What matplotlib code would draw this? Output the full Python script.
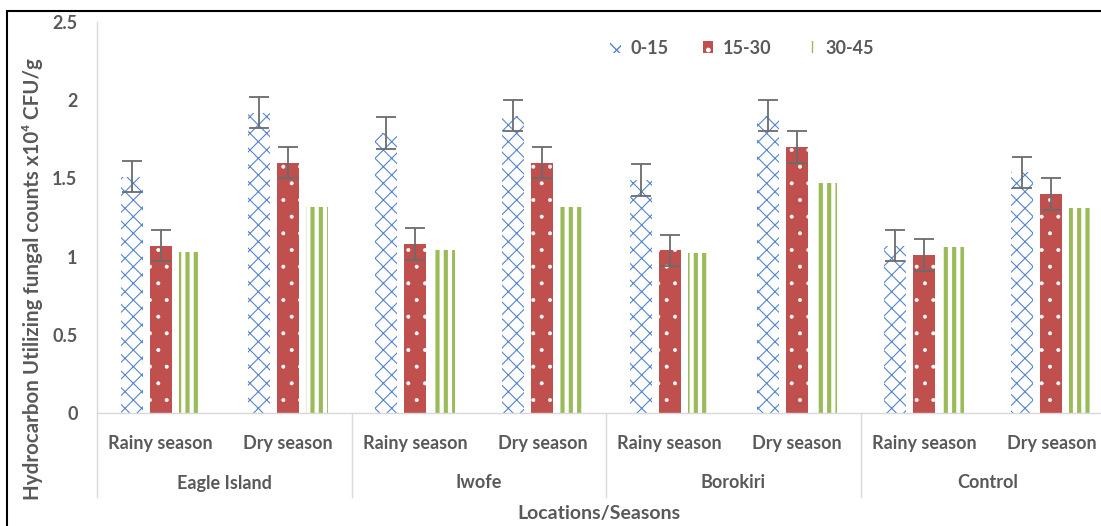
import matplotlib
matplotlib.use("Agg")
import matplotlib.pyplot as plt
import matplotlib.transforms as mtransforms
from matplotlib.patches import Patch, Rectangle
import numpy as np

# ---- data -------------------------------------------------------------
locations = ["Eagle Island", "Iwofe", "Borokiri", "Control"]
seasons = ["Rainy season", "Dry season"]
depths = ["0-15", "15-30", "30-45"]

depth_0_15 = [1.51, 1.92, 1.79, 1.90, 1.49, 1.90, 1.07, 1.54]
depth_15_30 = [1.07, 1.60, 1.08, 1.60, 1.04, 1.70, 1.01, 1.40]
depth_30_45 = [1.03, 1.32, 1.04, 1.32, 1.02, 1.47, 1.06, 1.31]
err_0_15 = [0.10, 0.10, 0.10, 0.10, 0.10, 0.10, 0.10, 0.10]
err_15_30 = [0.10, 0.10, 0.10, 0.10, 0.10, 0.10, 0.10, 0.10]

y_ticks = [0, 0.5, 1, 1.5, 2, 2.5]
y_tick_labels = ["0", "0.5", "1", "1.5", "2", "2.5"]

# ---- style ------------------------------------------------------------
FONT = ["Lato", "DejaVu Sans"]
TEXT = "#595959"
AXIS = "#d9d9d9"
BLUE = "#5585cf"
RED = "#c0504d"
GREEN = "#9bbb59"
ERR = "#6b6b6b"

plt.rcParams["font.family"] = FONT
plt.rcParams["hatch.linewidth"] = 1.0

W, H = 1101, 526
fig = plt.figure(figsize=(W / 100, H / 100), dpi=100)
ax = fig.add_axes([97 / W, 1 - 413 / H, 1018 / W, 391 / H])

labels_sub = [s for _ in locations for s in seasons]
x = np.arange(len(labels_sub))
offset = 0.228
width = 0.173

LW_BLUE, LW_RED, LW_GREEN = 0.8, 0.4, 3.0


def hatch_lw(patches, lw):
    for p in patches:
        if hasattr(p, "set_hatch_linewidth"):
            p.set_hatch_linewidth(lw)


with plt.rc_context({"hatch.linewidth": LW_BLUE}):
    b1 = ax.bar(x - offset, depth_0_15, width, facecolor="white",
                edgecolor=BLUE, hatch="xx", linewidth=0, zorder=2)
hatch_lw(b1, LW_BLUE)
with plt.rc_context({"hatch.linewidth": LW_RED}):
    b2 = ax.bar(x, depth_15_30, width, facecolor=RED,
                edgecolor="white", hatch=".", linewidth=0, zorder=2)
hatch_lw(b2, LW_RED)
with plt.rc_context({"hatch.linewidth": LW_GREEN}):
    b3 = ax.bar(x + offset, depth_30_45, width, facecolor="white",
                edgecolor=GREEN, hatch="||", linewidth=0, zorder=2)
hatch_lw(b3, LW_GREEN)

ax.errorbar(x - offset, depth_0_15, yerr=err_0_15, fmt="none", ecolor=ERR,
            elinewidth=1.3, capsize=7, capthick=1.3, zorder=3)
ax.errorbar(x, depth_15_30, yerr=err_15_30, fmt="none", ecolor=ERR,
            elinewidth=1.3, capsize=7, capthick=1.3, zorder=3)

# ---- axes -------------------------------------------------------------
ax.set_xlim(-0.5, len(labels_sub) - 0.5)
ax.set_ylim(0, 2.5)
ax.set_yticks(y_ticks)
ax.set_yticklabels(y_tick_labels)
ax.set_xticks(x)
ax.set_xticklabels(labels_sub)
ax.tick_params(axis="both", length=0, colors=TEXT, labelsize=13)
ax.tick_params(axis="y", pad=14)
ax.tick_params(axis="x", pad=16)
for lab in ax.get_xticklabels() + ax.get_yticklabels():
    lab.set_fontweight("bold")
    lab.set_color(TEXT)

for side in ["top", "right"]:
    ax.spines[side].set_visible(False)
for side in ["left", "bottom"]:
    ax.spines[side].set_color(AXIS)
    ax.spines[side].set_linewidth(1.0)

# group separators and location labels under the season labels
trans = mtransforms.blended_transform_factory(ax.transData, ax.transAxes)
sep_bottom = -(497 - 413) / 391
for g in range(len(locations) + 1):
    xs = g * len(seasons) - 0.5
    ax.plot([xs, xs], [0, sep_bottom], transform=trans, color=AXIS,
            lw=1.0, clip_on=False, zorder=1)
for g, name in enumerate(locations):
    xc = g * len(seasons) + (len(seasons) - 1) / 2
    ax.text(xc, -(483 - 413) / 391, name, transform=trans, ha="center",
            va="center", fontsize=13, fontweight="bold", color=TEXT)

fig.text(599 / W, 1 - 514 / H, "Locations/Seasons", ha="center",
         va="center", fontsize=14, fontweight="bold", color=TEXT)
fig.text(33 / W, 1 - 279 / H,
         "Hydrocarbon Utilizing fungal counts x10\u2074 CFU/g",
         rotation=90, ha="center", va="center", fontsize=14.8,
         fontweight="bold", color=TEXT, family=FONT)

# ---- legend -----------------------------------------------------------
handles = [
    Patch(facecolor="white", edgecolor=BLUE, hatch="xx", linewidth=0),
    Patch(facecolor=RED, edgecolor="white", hatch=".", linewidth=0),
    Patch(facecolor="white", edgecolor=GREEN, hatch="||", linewidth=0),
]
leg = fig.legend(handles, depths, loc="center",
                 bbox_to_anchor=(742 / W, 1 - 48 / H), ncol=3,
                 frameon=False, handlelength=0.6, handleheight=0.6,
                 columnspacing=1.9, handletextpad=0.5,
                 prop={"family": FONT, "weight": "bold", "size": 13})
for t in leg.get_texts():
    t.set_color(TEXT)

# outer frame
fig.add_artist(Rectangle((7 / W, -0.1), 1.2, (1 - 11 / H) + 0.1,
                         transform=fig.transFigure, fill=False,
                         edgecolor="black", linewidth=1.5))

fig.savefig("out.png", dpi=100)
